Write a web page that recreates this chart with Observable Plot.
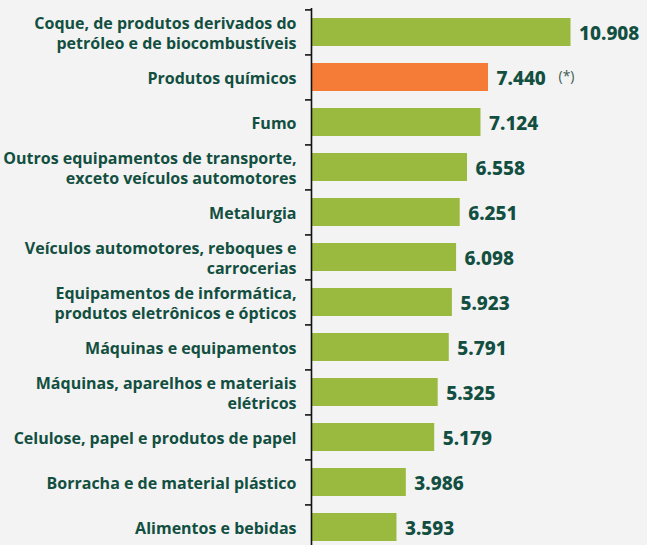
<!DOCTYPE html>
<html>
<head>
<meta charset="utf-8">
<script src="https://cdn.jsdelivr.net/npm/d3@7"></script>
<script src="https://cdn.jsdelivr.net/npm/@observablehq/plot@0.6"></script>
<style>
  html, body { margin: 0; padding: 0; background: #f2f3f2; }
  #chart { width: 647px; height: 545px; overflow: hidden; }
  #chart svg { display: block; background: transparent; }
</style>
</head>
<body>
<div id="chart"></div>
<script>
const categories = [
  "Coque, de produtos derivados do\npetróleo e de biocombustíveis",
  "Produtos químicos",
  "Fumo",
  "Outros equipamentos de transporte,\nexceto veículos automotores",
  "Metalurgia",
  "Veículos automotores, reboques e\ncarrocerias",
  "Equipamentos de informática,\nprodutos eletrônicos e ópticos",
  "Máquinas e equipamentos",
  "Máquinas, aparelhos e materiais\nelétricos",
  "Celulose, papel e produtos de papel",
  "Borracha e de material plástico",
  "Alimentos e bebidas"
];
const values = [10908, 7440, 7124, 6558, 6251, 6098, 5923, 5791, 5325, 5179, 3986, 3593];
const highlight = ["Produtos químicos"];
const notes = ["", "(*)", "", "", "", "", "", "", "", "", "", ""];

const data = categories.map((c, i) => ({category: c, value: values[i], note: notes[i]}));
const fmt = d3.formatLocale({decimal: ",", thousands: ".", grouping: [3], currency: ["R$", ""]}).format(",d");

const green = "#9aba3f";
const orange = "#f57c36";
const dark = "#124f41";

const yRange = [8, 550.2];
const step = (yRange[1] - yRange[0]) / categories.length;

const chart = Plot.plot({
  width: 647,
  height: 545,
  marginTop: 8,
  marginBottom: 0,
  marginLeft: 311,
  marginRight: 76.5,
  style: {background: "transparent", overflow: "visible"},
  x: {domain: [0, d3.max(values)], axis: null},
  y: {domain: categories, range: yRange, paddingInner: 0.38, paddingOuter: 0.19, axis: null},
  marks: [
    Plot.barX(data, {
      y: "category", x: "value",
      fill: d => highlight.includes(d.category) ? orange : green
    }),
    Plot.ruleX([0], {stroke: "#111", strokeWidth: 1.6}),
    Plot.ruleY(categories, {y: d => d, x1: 0, x2: 0, insetLeft: -6, dy: -step / 2, stroke: "#111", strokeWidth: 1.6}),
    Plot.text(data, {
      y: "category", x: 0, text: "category", dx: -15, textAnchor: "end",
      lineHeight: 1.25, fontSize: 16, fontWeight: 700, fill: dark,
      fontFamily: "'Open Sans', sans-serif"
    }),
    Plot.text(data, {
      y: "category", x: "value", text: d => fmt(d.value), dx: 8, dy: 1, textAnchor: "start",
      fontSize: 19, fontWeight: 800, fill: dark,
      fontFamily: "'Noto Sans', sans-serif",
      style: "letter-spacing: 0.7px"
    }),
    Plot.text(data.filter(d => d.note), {
      y: "category", x: "value", text: "note", dx: 70, dy: -1, textAnchor: "start",
      fontSize: 14, fontWeight: 400, fill: "#3d5a52",
      fontFamily: "'Open Sans', sans-serif"
    })
  ]
});
document.getElementById("chart").appendChild(chart);
</script>
</body>
</html>
